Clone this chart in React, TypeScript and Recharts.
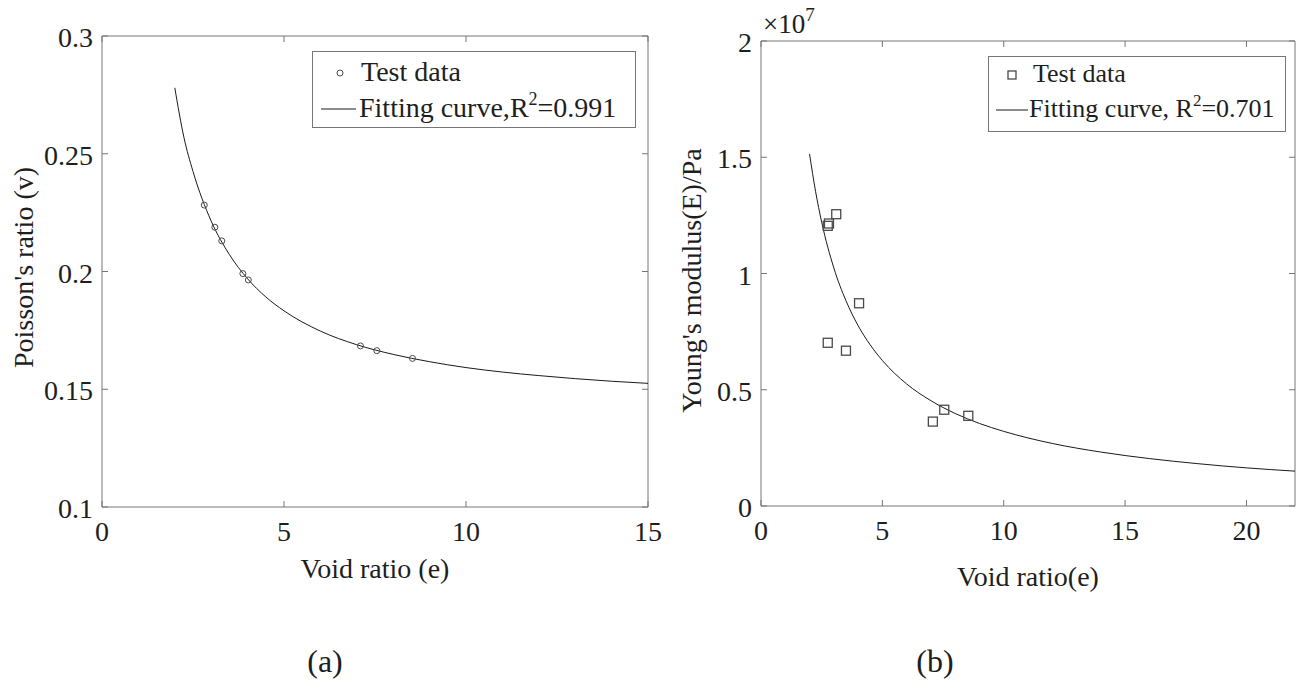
import { ComposedChart, Line, Scatter, XAxis, YAxis, Legend, ReferenceArea } from 'recharts';

const FONT = '"Liberation Serif", "Times New Roman", serif';
const AXIS_GREY = '#767676';
const TEXT = '#1e1e1e';
const CURVE = '#1a1a1a';
const FS = 28;

// (a) Poisson's ratio vs void ratio
const poissonTestE = [2.81, 3.1, 3.29, 3.87, 4.02, 7.1, 7.55, 8.53];
const poissonTestV = [0.2282, 0.2188, 0.213, 0.1991, 0.1964, 0.1684, 0.1664, 0.1631];
const poissonFitE = [2, 2.25, 2.5, 3, 3.5, 4, 4.5, 5, 6, 7, 8, 9, 10, 11, 12, 13, 14, 15];
const poissonFitV = [0.278, 0.257, 0.2425, 0.2214, 0.2072, 0.1969, 0.1892, 0.1833, 0.1747, 0.1689, 0.1648, 0.1617, 0.1592, 0.1573, 0.1558, 0.1545, 0.1534, 0.1525];
const poissonXTicks = [0, 5, 10, 15];
const poissonYTicks = [0.1, 0.15, 0.2, 0.25, 0.3];

// (b) Young's modulus vs void ratio, values in units of 1e7 Pa
const modulusTestE = [2.75, 2.8, 3.1, 4.04, 2.75, 3.5, 7.55, 7.08, 8.54];
const modulusTestE7 = [1.205, 1.215, 1.255, 0.872, 0.702, 0.668, 0.414, 0.363, 0.388];
const modulusFitE = [2, 2.25, 2.5, 3, 3.5, 4, 4.5, 5, 6, 7, 8, 9, 10, 12, 14, 16, 18, 20, 22];
const modulusFitE7 = [1.514, 1.352, 1.221, 1.024, 0.883, 0.776, 0.693, 0.626, 0.525, 0.453, 0.398, 0.355, 0.321, 0.269, 0.232, 0.204, 0.182, 0.164, 0.15];
const modulusXTicks = [0, 5, 10, 15, 20];
const modulusYTicks = [0, 0.5, 1, 1.5, 2];

const zip = (xs: number[], ys: number[]) => xs.map((x, i) => ({ x, y: ys[i] }));

const poissonTest = zip(poissonTestE, poissonTestV);
const poissonFit = zip(poissonFitE, poissonFitV);
const modulusTest = zip(modulusTestE, modulusTestE7);
const modulusFit = zip(modulusFitE, modulusFitE7);

const TICK_LEN = 6;

// bottom ticks point inward, and are mirrored on the top edge of the box
const makeXTick = (plotTop: number) => (props: any) => {
  const { x, y, payload } = props;
  return (
    <g>
      <line x1={x} y1={y} x2={x} y2={y - TICK_LEN} stroke={AXIS_GREY} />
      <line x1={x} y1={plotTop} x2={x} y2={plotTop + TICK_LEN} stroke={AXIS_GREY} />
      <text x={x} y={y + 34} textAnchor="middle" fontSize={FS} fontFamily={FONT} fill={TEXT}>
        {payload.value}
      </text>
    </g>
  );
};

const makeYTick = (plotRight: number) => (props: any) => {
  const { x, y, payload } = props;
  return (
    <g>
      <line x1={x} y1={y} x2={x + TICK_LEN} y2={y} stroke={AXIS_GREY} />
      <line x1={plotRight} y1={y} x2={plotRight - TICK_LEN} y2={y} stroke={AXIS_GREY} />
      <text x={x - 9} y={y + 11} textAnchor="end" fontSize={FS} fontFamily={FONT} fill={TEXT}>
        {payload.value}
      </text>
    </g>
  );
};

const xTitle = (value: string, baseline: number) => (props: any) => {
  const vb = props.viewBox;
  return (
    <text x={vb.x + vb.width / 2} y={vb.y + baseline} textAnchor="middle" fontSize={FS} fontFamily={FONT} fill={TEXT}>
      {value}
    </text>
  );
};

const yTitle = (value: string, fromLeft: number, shift: number) => (props: any) => {
  const vb = props.viewBox;
  const cx = vb.x + vb.width - fromLeft;
  const cy = vb.y + vb.height / 2 + shift;
  return (
    <text x={cx} y={cy} dy="0.35em" textAnchor="middle" transform={`rotate(-90, ${cx}, ${cy})`} fontSize={FS} fontFamily={FONT} fill={TEXT}>
      {value}
    </text>
  );
};

const circleDot = (p: any) => <circle cx={p.cx} cy={p.cy} r={3} fill="none" stroke="#4a4a4a" strokeWidth={1} />;
const squareDot = (p: any) => (
  <rect x={p.cx - 4.5} y={p.cy - 4.5} width={9} height={9} fill="none" stroke="#4a4a4a" strokeWidth={1.3} />
);

function LegendBox({ width, height, marker, r2, gap, fontSize }: { width: number; height: number; marker: 'circle' | 'square'; r2: string; gap: string; fontSize: number }) {
  const m = marker === 'circle'
    ? { left: 27, top: 21, text: 48, lineFrom: 8, lineTo: 43, text2: 46, row2: 57 }
    : { left: 23, top: 18, text: 44, lineFrom: 7, lineTo: 39, text2: 40, row2: 53 };
  const textStyle: React.CSSProperties = {
    position: 'absolute',
    fontFamily: FONT,
    fontSize,
    lineHeight: `${fontSize}px`,
    color: TEXT,
    whiteSpace: 'nowrap'
  };
  const half = Math.round(fontSize / 2) + 1;
  return (
    <div style={{ position: 'relative', width, height, border: `1px solid ${AXIS_GREY}`, background: '#fff', boxSizing: 'border-box' }}>
      <svg width={width} height={height} style={{ position: 'absolute', left: 0, top: 0 }}>
        {marker === 'circle'
          ? <circle cx={m.left} cy={m.top} r={3} fill="none" stroke="#4a4a4a" />
          : <rect x={m.left - 4} y={m.top - 4} width={8} height={8} fill="none" stroke="#4a4a4a" strokeWidth={1.3} />}
        <line x1={m.lineFrom} y1={m.row2} x2={m.lineTo} y2={m.row2} stroke={CURVE} />
      </svg>
      <div style={{ ...textStyle, left: m.text, top: m.top - half }}>Test data</div>
      <div style={{ ...textStyle, left: m.text2, top: m.row2 - half }}>
        Fitting curve,{gap}R<span style={{ fontSize: Math.round(fontSize * 0.65), position: 'relative', top: -Math.round(fontSize * 0.43) }}>2</span>={r2}
      </div>
    </div>
  );
}

export default function App() {
  return (
    <div style={{ position: 'absolute', left: 0, top: 0, width: 1296, height: 689, background: '#fff' }}>
      {/* (a) plot box: x 102..648, y 36..507 */}
      <div style={{ position: 'absolute', left: 0, top: 0 }}>
        <ComposedChart width={680} height={689} margin={{ top: 36, right: 32, bottom: 142, left: 22 }}>
          <XAxis
            type="number"
            dataKey="x"
            domain={[0, 15]}
            ticks={poissonXTicks}
            allowDataOverflow
            height={40}
            axisLine={false}
            tickLine={false}
            tickSize={0}
            tickMargin={0}
            tick={makeXTick(36)}
            label={xTitle('Void ratio (e)', 71)}
          />
          <YAxis
            type="number"
            dataKey="y"
            domain={[0.1, 0.3]}
            ticks={poissonYTicks}
            allowDataOverflow
            width={80}
            axisLine={false}
            tickLine={false}
            tickSize={0}
            tickMargin={0}
            tick={makeYTick(648)}
            label={yTitle("Poisson's ratio (v)", 79, -4)}
          />
          <ReferenceArea x1={0} x2={15} y1={0.1} y2={0.3} fill="none" stroke={AXIS_GREY} strokeWidth={1} />
          <Line data={poissonFit} dataKey="y" type="monotone" stroke={CURVE} strokeWidth={1} dot={false} isAnimationActive={false} />
          <Scatter data={poissonTest} dataKey="y" shape={circleDot} isAnimationActive={false} />
          <Legend
            layout="horizontal"
            verticalAlign="middle"
            align="center"
            wrapperStyle={{ left: 312, top: 51, width: 324, height: 77 }}
            content={() => <LegendBox width={324} height={77} marker="circle" r2="0.991" gap="" fontSize={28} />}
          />
        </ComposedChart>
      </div>

      {/* (b) plot box: x 761..1295, y 41..506 */}
      <div style={{ position: 'absolute', left: 660, top: 0 }}>
        <ComposedChart width={636} height={689} margin={{ top: 41, right: 1, bottom: 143, left: 41 }}>
          <XAxis
            type="number"
            dataKey="x"
            domain={[0, 22]}
            ticks={modulusXTicks}
            allowDataOverflow
            height={40}
            axisLine={false}
            tickLine={false}
            tickSize={0}
            tickMargin={0}
            tick={makeXTick(41)}
            label={xTitle('Void ratio(e)', 80)}
          />
          <YAxis
            type="number"
            dataKey="y"
            domain={[0, 2]}
            ticks={modulusYTicks}
            allowDataOverflow
            width={60}
            axisLine={false}
            tickLine={false}
            tickSize={0}
            tickMargin={0}
            tick={makeYTick(635)}
            label={yTitle("Young's modulus(E)/Pa", 70, 7)}
          />
          <ReferenceArea x1={0} x2={22} y1={0} y2={2} fill="none" stroke={AXIS_GREY} strokeWidth={1} />
          <Line data={modulusFit} dataKey="y" type="monotone" stroke={CURVE} strokeWidth={1} dot={false} isAnimationActive={false} />
          <Scatter data={modulusTest} dataKey="y" shape={squareDot} isAnimationActive={false} />
          <Legend
            layout="horizontal"
            verticalAlign="middle"
            align="center"
            wrapperStyle={{ left: 328, top: 56, width: 298, height: 76 }}
            content={() => <LegendBox width={298} height={76} marker="square" r2="0.701" gap=" " fontSize={26} />}
          />
        </ComposedChart>
        <div style={{ position: 'absolute', left: 103, top: 9, fontFamily: FONT, fontSize: 27, color: TEXT, lineHeight: '30px', whiteSpace: 'nowrap' }}>
          ×10<span style={{ fontSize: 19, position: 'relative', top: -12 }}>7</span>
        </div>
      </div>

      <div style={{ position: 'absolute', left: 290, top: 643, width: 70, textAlign: 'center', fontFamily: FONT, fontSize: 32, color: TEXT }}>(a)</div>
      <div style={{ position: 'absolute', left: 900, top: 643, width: 70, textAlign: 'center', fontFamily: FONT, fontSize: 32, color: TEXT }}>(b)</div>
    </div>
  );
}
